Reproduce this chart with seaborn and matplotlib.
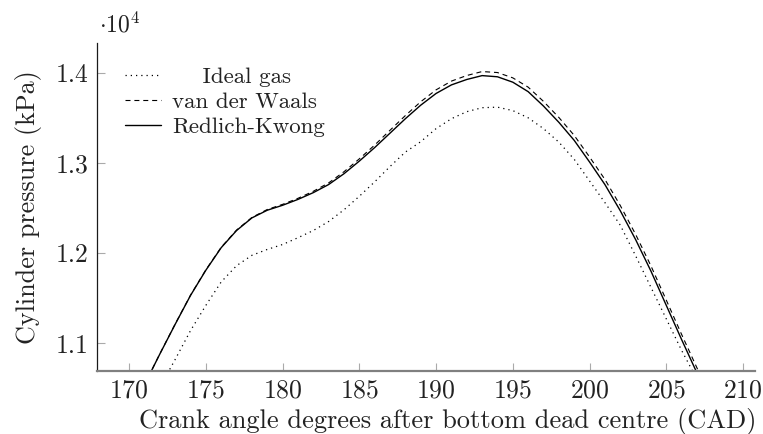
import matplotlib
matplotlib.use("Agg")
import matplotlib.pyplot as plt
import seaborn as sns
import pandas as pd
from matplotlib.ticker import FuncFormatter

# Crank angle (CAD) and cylinder pressure (kPa) for three equations of state
crank_angle = list(range(171, 209))

ideal_gas = [10200, 10510, 10820, 11140, 11420, 11680, 11860, 11975, 12040, 12095,
             12170, 12250, 12350, 12480, 12630, 12790, 12960, 13120, 13235, 13380,
             13490, 13568, 13612, 13618, 13580, 13500, 13380, 13230, 13040, 12800,
             12560, 12310, 11970, 11620, 11270, 10920, 10600, 10270]

redlich_kwong = [10540, 10880, 11210, 11530, 11810, 12060, 12250, 12390, 12475, 12530,
                 12595, 12670, 12760, 12880, 13020, 13170, 13330, 13490, 13640, 13770,
                 13865, 13925, 13968, 13955, 13895, 13790, 13630, 13450, 13250, 13010,
                 12760, 12470, 12150, 11800, 11420, 11040, 10670, 10300]

van_der_waals = [10540, 10882, 11213, 11533, 11814, 12064, 12255, 12395, 12483, 12540,
                 12607, 12685, 12778, 12902, 13045, 13198, 13362, 13525, 13678, 13810,
                 13907, 13969, 14013, 14002, 13943, 13840, 13682, 13504, 13305, 13066,
                 12817, 12528, 12208, 11858, 11478, 11097, 10726, 10355]

# legend entries; the shorter name is padded so the names sit centred in their column
series_labels = ["    Ideal gas", "van der Waals", "Redlich-Kwong"]
x_ticks = [170, 175, 180, 185, 190, 195, 200, 205, 210]
y_ticks = [11000, 12000, 13000, 14000]

sns.set_theme(style="white")
plt.rcParams["font.family"] = "serif"
plt.rcParams["font.serif"] = ["cmr10", "DejaVu Serif"]
plt.rcParams["mathtext.fontset"] = "cm"
plt.rcParams["axes.unicode_minus"] = False
plt.rcParams["axes.formatter.use_mathtext"] = True

fig = plt.figure(figsize=(7.63, 4.34), dpi=100)
ax = fig.add_axes([0.127, 0.146, 0.8625, 0.755])

styles = [
    (ideal_gas, (0, (1, 3.2)), 0.9),
    (van_der_waals, (0, (4.5, 3.5)), 0.8),
    (redlich_kwong, "-", 1.0),
]
for (values, ls, lw), label in zip(styles, series_labels):
    df = pd.DataFrame({"angle": crank_angle, "pressure": values})
    sns.lineplot(data=df, x="angle", y="pressure", ax=ax, color="black",
                 linestyle=ls, linewidth=lw, label=label)

ax.set_xlim(167.9, 210.78)
ax.set_ylim(10696, 14330)
ax.set_xticks(x_ticks)
ax.set_yticks(y_ticks)
ax.yaxis.set_major_formatter(FuncFormatter(lambda v, p: f"{v / 1e4:.1f}"))

for side in ("top", "right"):
    ax.spines[side].set_visible(False)
ax.spines["left"].set_color("#1a1a1a")
ax.spines["left"].set_linewidth(0.9)
ax.spines["bottom"].set_color("#808080")
ax.spines["bottom"].set_linewidth(1.6)

ax.tick_params(axis="both", direction="in", length=6, width=0.8, color="#aaaaaa",
               labelsize=18.5, labelcolor="#222222", pad=6,
               bottom=True, left=True)

ax.set_xlabel("Crank angle degrees after bottom dead centre (CAD)", fontsize=19,
              color="#222222")
ax.xaxis.set_label_coords(0.533, -0.115)
ax.set_ylabel("Cylinder pressure (kPa)", fontsize=18.8, color="#222222", labelpad=10)

fig.text(99 / 763, 1 - 37 / 434, r"$\cdot 10^4$", fontsize=17,
         color="#222222", ha="left", va="bottom")

leg = ax.legend(loc="upper left", bbox_to_anchor=(0.011, 0.99), frameon=False,
                fontsize=16.5, handlelength=1.6, handletextpad=0.45, labelspacing=0.22,
                labelcolor="#222222")

fig.savefig("out.png", dpi=100)
